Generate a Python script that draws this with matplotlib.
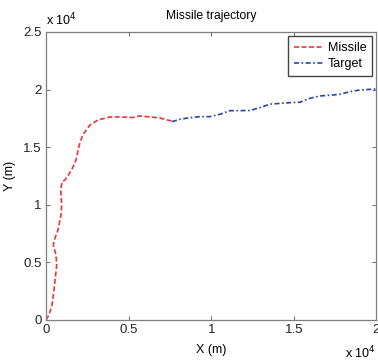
import matplotlib.pyplot as plt
from matplotlib.ticker import FuncFormatter

# missile path (m)
missile_x = [0, 180, 363, 484, 647, 605, 442, 545, 726, 908, 950, 890, 968, 1150,
             1555, 1815, 2015, 2220, 2662, 3147, 3873, 4478, 5265, 5688, 6293,
             6898, 7320, 7624]
missile_y = [0, 434, 1302, 2604, 4774, 5642, 6510, 7118, 7812, 9115, 9983, 11285,
             11979, 12153, 13021, 13889, 15191, 16059, 16927, 17361, 17622, 17622,
             17578, 17708, 17622, 17535, 17361, 17274]

# target path (m)
target_x = [7624, 8108, 8713, 9318, 9923, 10529, 11134, 11740, 12345, 12950, 13555,
            14765, 15371, 15976, 16581, 17186, 17791, 18396, 19001, 20000]
target_y = [17213, 17422, 17561, 17648, 17648, 17856, 18168, 18168, 18186, 18429,
            18733, 18863, 18898, 19245, 19444, 19505, 19592, 19818, 19965, 20052]

x_ticks = [0, 5000, 10000, 15000, 20000]
y_ticks = [0, 5000, 10000, 15000, 20000, 25000]

plt.rcParams['font.family'] = ['Liberation Sans', 'DejaVu Sans']
plt.rcParams['font.size'] = 9

fig = plt.figure(figsize=(3.78, 3.63), dpi=100)
ax = fig.add_axes([0.1217, 0.1185, 0.8743, 0.7935])

ax.plot(missile_x, missile_y, color='#f0303c', lw=1.2, dashes=(3, 1.5), label='Missile')
ax.plot(target_x, target_y, color='#2244a8', lw=1.2, dashes=(3, 1.5, 1, 1.5), label='Target')

ax.set_xlim(0, 20000)
ax.set_ylim(0, 25000)
ax.set_xticks(x_ticks)
ax.set_yticks(y_ticks)
fmt = FuncFormatter(lambda v, p: f'{v / 1e4:g}')
ax.xaxis.set_major_formatter(fmt)
ax.yaxis.set_major_formatter(fmt)

# matlab-ish box with inward ticks
for s in ax.spines.values():
    s.set_color('#7f7f7f')
    s.set_linewidth(0.9)
ax.tick_params(direction='in', length=3, width=0.6, color='#555555',
               top=True, right=True, labelsize=9.5, pad=3, labelcolor='#222222')

ax.set_title('Missile trajectory', fontsize=8.7, pad=9)
ax.set_xlabel('X (m)', fontsize=9, labelpad=6)
ax.set_ylabel('Y (m)', fontsize=9, labelpad=5)

# scale markers
ax.text(0.0, 1.012, 'x 10$^{4}$', transform=ax.transAxes, fontsize=9, ha='left', va='bottom')
ax.text(0.997, -0.085, 'x 10$^{4}$', transform=ax.transAxes, fontsize=9, ha='right', va='top')

ax.legend(loc='upper right', fontsize=9, handlelength=2.4, frameon=True, fancybox=False,
          edgecolor='#444444', borderpad=0.45, labelspacing=0.35, handletextpad=0.3,
          borderaxespad=0.35, framealpha=1)

fig.savefig('out.png', dpi=100)
